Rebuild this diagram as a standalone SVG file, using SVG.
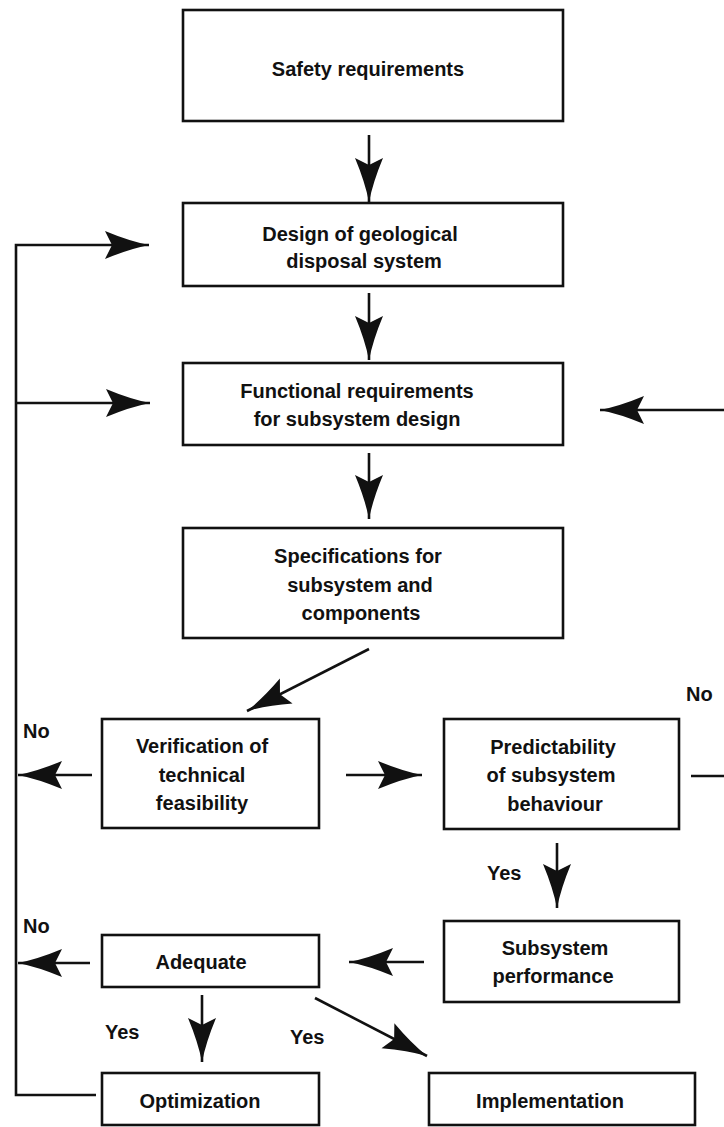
<svg xmlns="http://www.w3.org/2000/svg" width="724" height="1127" viewBox="0 0 724 1127">
<style>
.box{fill:#fff;stroke:#111;stroke-width:2.6}
.t{font-family:"Liberation Sans",Arial,sans-serif;font-size:20px;font-weight:bold;fill:#111;text-anchor:middle}
.l{font-family:"Liberation Sans",Arial,sans-serif;font-size:20px;font-weight:bold;fill:#111}
.c{fill:none;stroke:#111;stroke-width:2.6}
</style>
<defs>
<marker id="ah" markerUnits="userSpaceOnUse" viewBox="-46 -16 48 32" markerWidth="48" markerHeight="32" refX="0" refY="0" orient="auto">
<path d="M0,0 Q-20,-4 -44,-14 L-37,0 L-44,14 Q-20,4 0,0 Z" fill="#111"/>
</marker>
</defs>
<rect width="724" height="1127" fill="#fff"/>
<g id="connectors">
<line class="c" x1="369" y1="135" x2="369" y2="202" marker-end="url(#ah)"/>
<line class="c" x1="369" y1="293" x2="369" y2="360" marker-end="url(#ah)"/>
<line class="c" x1="369" y1="453" x2="369" y2="519" marker-end="url(#ah)"/>
<line class="c" x1="369" y1="649" x2="247" y2="711" marker-end="url(#ah)"/>
<line class="c" x1="92" y1="775" x2="18" y2="775" marker-end="url(#ah)"/>
<line class="c" x1="346" y1="775" x2="422" y2="775" marker-end="url(#ah)"/>
<line class="c" x1="691" y1="776" x2="724" y2="776"/>
<line class="c" x1="724" y1="410" x2="600" y2="410" marker-end="url(#ah)"/>
<line class="c" x1="557" y1="843" x2="557" y2="908" marker-end="url(#ah)"/>
<line class="c" x1="424" y1="962" x2="349" y2="962" marker-end="url(#ah)"/>
<line class="c" x1="90" y1="963" x2="18" y2="963" marker-end="url(#ah)"/>
<line class="c" x1="202" y1="995" x2="202" y2="1062" marker-end="url(#ah)"/>
<line class="c" x1="315" y1="998" x2="427" y2="1056" marker-end="url(#ah)"/>
<polyline class="c" points="96,1095 16,1095 16,245 149,245" marker-end="url(#ah)"/>
<line class="c" x1="16" y1="403" x2="150" y2="403" marker-end="url(#ah)"/>
</g>
<g id="safety">
<rect class="box" x="183" y="10" width="380" height="111"/>
<text class="t" x="368" y="76">Safety requirements</text>
</g>
<g id="design">
<rect class="box" x="183" y="203" width="380" height="83"/>
<text class="t" x="360" y="241">Design of geological</text>
<text class="t" x="364" y="268">disposal system</text>
</g>
<g id="functional">
<rect class="box" x="183" y="363" width="380" height="82"/>
<text class="t" x="357" y="398">Functional requirements</text>
<text class="t" x="357" y="426">for subsystem design</text>
</g>
<g id="specifications">
<rect class="box" x="183" y="528" width="380" height="110"/>
<text class="t" x="358" y="563">Specifications for</text>
<text class="t" x="360" y="592">subsystem and</text>
<text class="t" x="361" y="620">components</text>
</g>
<g id="verification">
<rect class="box" x="102" y="719" width="217" height="109"/>
<text class="t" x="202" y="753">Verification of</text>
<text class="t" x="202" y="782">technical</text>
<text class="t" x="202" y="810">feasibility</text>
</g>
<g id="predictability">
<rect class="box" x="444" y="719" width="235" height="110"/>
<text class="t" x="553" y="754">Predictability</text>
<text class="t" x="551" y="782">of subsystem</text>
<text class="t" x="555" y="811">behaviour</text>
</g>
<g id="performance">
<rect class="box" x="444" y="921" width="235" height="81"/>
<text class="t" x="555" y="955">Subsystem</text>
<text class="t" x="553" y="983">performance</text>
</g>
<g id="adequate">
<rect class="box" x="102" y="935" width="217" height="52"/>
<text class="t" x="201" y="969">Adequate</text>
</g>
<g id="optimization">
<rect class="box" x="102" y="1073" width="217" height="52"/>
<text class="t" x="200" y="1108">Optimization</text>
</g>
<g id="implementation">
<rect class="box" x="429" y="1073" width="266" height="52"/>
<text class="t" x="550" y="1108">Implementation</text>
</g>
<g id="labels">
<text class="l" x="23" y="738">No</text>
<text class="l" x="23" y="933">No</text>
<text class="l" x="686" y="701">No</text>
<text class="l" x="487" y="880">Yes</text>
<text class="l" x="105" y="1039">Yes</text>
<text class="l" x="290" y="1044">Yes</text>
</g>
</svg>
